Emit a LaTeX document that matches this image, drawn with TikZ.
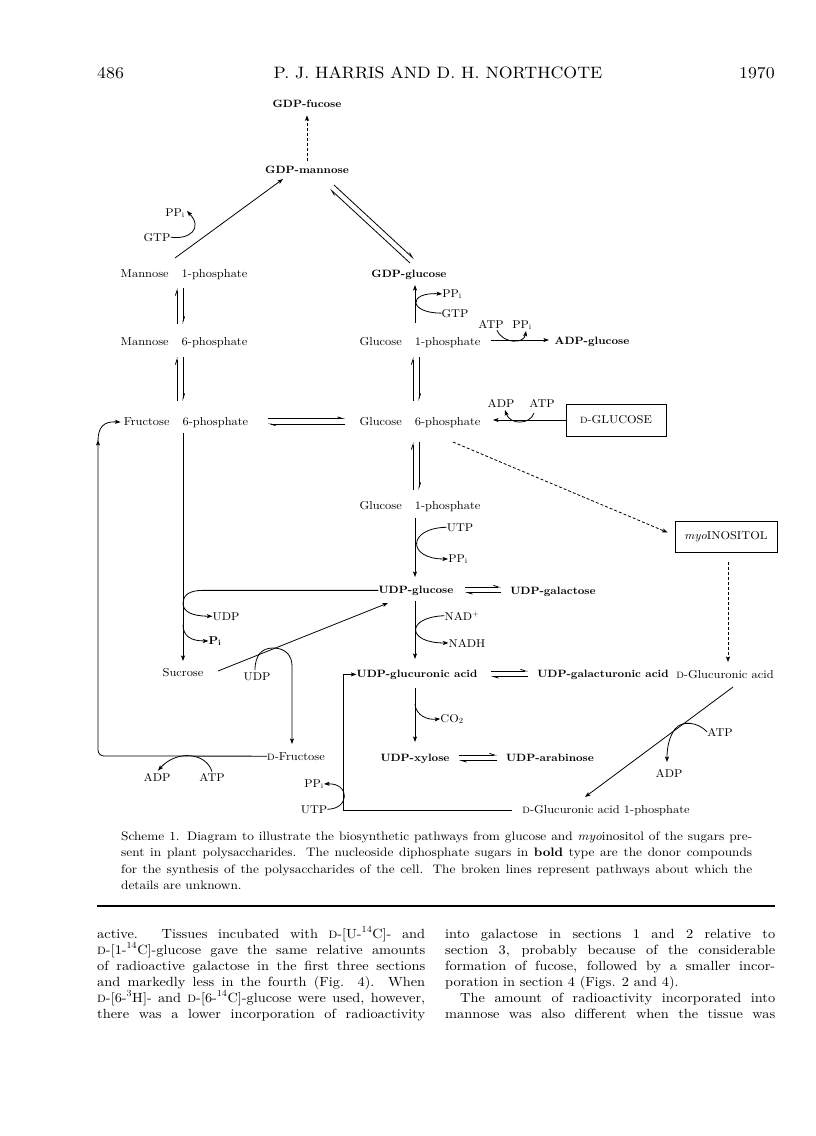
\documentclass[tikz,border=0pt]{standalone}
\usepackage{fontspec}
\setmainfont{lmroman10-regular.otf}[BoldFont=lmroman10-bold.otf,ItalicFont=lmroman10-italic.otf,BoldItalicFont=lmroman10-bolditalic.otf,FakeStretch=1.08]
\usetikzlibrary{arrows.meta,calc}
\newcommand\sD{\scalebox{0.8}{D}}
\newcommand\gp{\hspace{13pt}}
\tikzset{
  lab/.style={font=\fontsize{11.5}{13}\selectfont, inner sep=0pt, anchor=base},
  blab/.style={font=\fontsize{10.6}{12}\selectfont\bfseries, inner sep=0pt, anchor=base},
  cof/.style={font=\fontsize{11.3}{13}\selectfont, inner sep=0pt, anchor=base},
  hdr/.style={font=\fontsize{16.5}{20}\selectfont, inner sep=0pt, anchor=base},
  captxt/.style={font=\fontsize{12.3}{16}\selectfont, inner sep=0pt, anchor=base west},
  bodytxt/.style={font=\fontsize{13.3}{16}\selectfont, inner sep=0pt, anchor=base west},
  arr/.style={line width=0.8pt, -{Stealth[length=5.5pt,width=4pt,inset=1.2pt]}},
  hp/.style={line width=0.8pt, -{Straight Barb[left,length=5pt,width=3.2pt]}},
  dsh/.style={line width=0.8pt, dash pattern=on 3pt off 2pt, -{Stealth[length=5.5pt,width=4pt,inset=1.2pt]}},
  boxn/.style={draw, line width=0.8pt, inner sep=0pt, font=\fontsize{11.4}{13}\selectfont}
}
\begin{document}
\begin{tikzpicture}[x=1pt,y=-1pt]
\fill[white] (0,0) rectangle (816,1136);
\path[use as bounding box] (0,0) rectangle (816,1136);

% ---------------- header
\node[hdr, anchor=base west] (pg) at (97,78) {486};
\node[hdr] (ttl) at (438,78) {P. J. HARRIS AND D. H. NORTHCOTE};
\node[hdr, anchor=base east] (yr) at (775,78) {1970};

% ---------------- nodes
\node[blab] (fuc) at (307,107) {GDP-fucose};
\node[blab] (gman) at (307,173) {GDP-mannose};
\node[cof] (ppiA) at (175,216) {PP\textsubscript{i}};
\node[cof] (gtpA) at (157,241) {GTP};
\node[lab] (man1p) at (184,277) {Mannose\gp1-phosphate};
\node[blab] (gglc) at (409,277) {GDP-glucose};
\node[lab] (man6p) at (184,345) {Mannose\gp6-phosphate};
\node[lab] (glc1p) at (420,345) {Glucose\gp1-phosphate};
\node[cof] (ppiB) at (452,297) {PP\textsubscript{i}};
\node[cof] (gtpB) at (455,317) {GTP};
\node[cof] (atpA) at (491,328) {ATP};
\node[cof] (ppiC) at (522,328) {PP\textsubscript{i}};
\node[blab] (adpglc) at (592,344) {ADP-glucose};
\node[lab] (fru6p) at (186,425) {Fructose\gp6-phosphate};
\node[lab] (glc6p) at (420,425) {Glucose\gp6-phosphate};
\node[cof] (adpA) at (501,407) {ADP};
\node[cof] (atpB) at (542,407) {ATP};
\node[boxn, minimum width=100pt, minimum height=32pt] (dglc) at (616,420) {\sD-GLUCOSE};
\node[boxn, minimum width=102pt, minimum height=31pt] (inos) at (726,536.5) {\textit{myo}INOSITOL};
\node[lab] (glc1pb) at (420,509) {Glucose\gp1-phosphate};
\node[cof] (utpA) at (460,531) {UTP};
\node[cof] (ppiD) at (458,562) {PP\textsubscript{i}};
\node[blab] (udpglc) at (416,593) {UDP-glucose};
\node[blab] (udpgal) at (553,594) {UDP-galactose};
\node[cof] (udpA) at (226,620) {UDP};
\node[cof] (piA) at (215,644) {\textbf{P\textsubscript{i}}};
\node[lab] (sucr) at (183,676) {Sucrose};
\node[cof] (udpB) at (257,680) {UDP};
\node[cof] (nadp) at (462,620) {NAD\textsuperscript{+}};
\node[cof] (nadh) at (467,647) {NADH};
\node[blab] (udpglcA) at (417,677) {UDP-glucuronic acid};
\node[blab] (udpgalA) at (603,677) {UDP-galacturonic acid};
\node[lab] (dglcA) at (725,678) {\sD-Glucuronic acid};
\node[cof] (co2) at (452,722) {CO\textsubscript{2}};
\node[blab] (udpxyl) at (415,761) {UDP-xylose};
\node[blab] (udpara) at (550,761) {UDP-arabinose};
\node[cof] (atpC) at (720,736) {ATP};
\node[cof] (adpB) at (669,777) {ADP};
\node[lab] (dfru) at (296,760) {\sD-Fructose};
\node[cof] (adpC) at (157,781) {ADP};
\node[cof] (atpD) at (212,781) {ATP};
\node[cof] (ppiE) at (314,787) {PP\textsubscript{i}};
\node[cof] (utpB) at (314,813) {UTP};
\node[lab] (dglcA1P) at (606,813) {\sD-Glucuronic acid 1-phosphate};

% ---------------- connector end points
\coordinate (m1top) at (175,258);
\coordinate (gmanin) at (283,179);

\draw[dsh] ($(gman.north)+(0,-4)$) -- ($(fuc.south)+(0,8)$);
\draw[arr] (m1top) -- (gmanin);
\draw[arr] (gtpA.east) .. controls (190,240) and (203,228) .. ($(ppiA.east)+(2,-2)$);
\draw[hp] (334,185) -- (414,259);
\draw[hp] (410,263) -- (330,189);
\draw[hp] (177,324) -- (177,288);
\draw[hp] (183,288) -- (183,324);
\draw[arr] (415,323) -- (415,285);
\draw[arr] (gtpB.west) .. controls (408,313) and (408,292) .. (ppiB.west);
\draw[arr] (491,340) -- (549,340);
\draw[arr] ($(atpA.south)+(6,2)$) .. controls (503,344) and (524,344) .. ($(ppiC.south)+(4,1)$);
\draw[hp] (177,401) -- (177,357);
\draw[hp] (183,357) -- (183,401);
\draw[hp] (413,401) -- (413,357);
\draw[hp] (419,357) -- (419,401);
\draw[hp] (268,418.5) -- (345,418.5);
\draw[hp] (345,424) -- (268,424);
\draw[arr] (dglc.west) -- (493,420);
\draw[arr] (534,413) .. controls (530,425) and (510,425) .. (505,410);
\draw[dsh] (453,442) -- ($(inos.west)+(-7,-4)$);
\draw[hp] (413,490) -- (413,442);
\draw[hp] (419,442) -- (419,490);
\draw[arr] (415,518) -- (415,577);
\draw[arr] (utpA.west) .. controls (407,528) and (407,559) .. (ppiD.west);
\draw[hp] (465,587) -- (501,587);
\draw[hp] (501,592.5) -- (465,592.5);
\draw[arr] (udpglc.west) -- ++(-176,0) .. controls +(-14,0) and (183,596) .. (183,603) .. controls (183,612) and (192,616) .. (udpA.west);
\draw[arr] (183,433) -- (183,661);
\draw[arr] (183,625) .. controls (183,636) and (191,641) .. (piA.west);
\draw[arr] (218,671) -- (388,603);
\draw[arr] ($(udpB.north)+(-2,-2)$) .. controls (255,655) and (262,648) .. (273,648) .. controls (286,648) and (292,656) .. (292,666) -- ($(dfru.north)+(-4,-8)$);
\draw[arr, rounded corners=6pt] (dfru.west) -- (98,756) -- (98,440);
\draw[arr] (98,441) .. controls (98,428) and (103,421) .. ($(fru6p.west)+(-3,0)$);
\draw[arr] ($(atpD.north)+(0,-1)$) .. controls (206,752) and (176,750) .. ($(adpC.north)+(1,-2)$);
\draw[arr] (415,601) -- (415,659);
\draw[arr] (nadp.west) .. controls (406,617) and (406,643) .. (nadh.west);
\draw[hp] (491,671) -- (528,671);
\draw[hp] (528,676.5) -- (491,676.5);
\draw[arr] (415,688) -- (415,742);
\draw[arr] (415,704) .. controls (416,716) and (428,720) .. (co2.west);
\draw[hp] (459,755) -- (497,755);
\draw[hp] (497,760.5) -- (459,760.5);
\draw[dsh] ($(inos.south)+(2,10)$) -- (728,662);
\draw[arr] (733,687) -- (585,797);
\draw[arr] (atpC.west) .. controls (698,722) and (682,720) .. (675,729) .. controls (669,737) and (667,748) .. (667,762);
\draw[arr] ($(dglcA1P.west)+(-10,0)$) -| ($(udpglcA.west)+(-13,0)$) -- (udpglcA.west);
\draw[arr] (utpB.east) .. controls (350,809) and (350,783) .. (ppiE.east);

% ---------------- caption
\node[captxt] (cap1) at (121,840) {\makebox[631pt][s]{Scheme 1. Diagram to illustrate the biosynthetic pathways from glucose and \textit{myo}inositol of the sugars pre-}};
\node[captxt] (cap2) at (121,856.5) {\makebox[631pt][s]{sent in plant polysaccharides. The nucleoside diphosphate sugars in \textbf{bold} type are the donor compounds}};
\node[captxt] (cap3) at (121,873) {\makebox[631pt][s]{for the synthesis of the polysaccharides of the cell. The broken lines represent pathways about which the}};
\node[captxt] (cap4) at (121,889.5) {details are unknown.};

% ---------------- rule
\coordinate (rl) at (97,906);
\coordinate (rr) at (775,906);
\draw[line width=1.5pt] (rl) -- (rr);

% ---------------- body text
\node[bodytxt] (l1) at (97,938) {\makebox[328pt][s]{active. Tissues incubated with \sD-[U-\textsuperscript{14}C]- and}};
\node[bodytxt] (l2) at (97,954) {\makebox[328pt][s]{\sD-[1-\textsuperscript{14}C]-glucose gave the same relative amounts}};
\node[bodytxt] (l3) at (97,970) {\makebox[328pt][s]{of radioactive galactose in the first three sections}};
\node[bodytxt] (l4) at (97,986) {\makebox[328pt][s]{and markedly less in the fourth (Fig. 4). When}};
\node[bodytxt] (l5) at (97,1002) {\makebox[328pt][s]{\sD-[6-\textsuperscript{3}H]- and \sD-[6-\textsuperscript{14}C]-glucose were used, however,}};
\node[bodytxt] (l6) at (97,1018) {\makebox[328pt][s]{there was a lower incorporation of radioactivity}};

\node[bodytxt] (r1) at (445,938) {\makebox[330pt][s]{into galactose in sections 1 and 2 relative to}};
\node[bodytxt] (r2) at (445,954) {\makebox[330pt][s]{section 3, probably because of the considerable}};
\node[bodytxt] (r3) at (445,970) {\makebox[330pt][s]{formation of fucose, followed by a smaller incor-}};
\node[bodytxt] (r4) at (445,986) {poration in section 4 (Figs. 2 and 4).};
\node[bodytxt] (r5) at (445,1002) {\hspace{15pt}\makebox[315pt][s]{The amount of radioactivity incorporated into}};
\node[bodytxt] (r6) at (445,1018) {\makebox[330pt][s]{mannose was also different when the tissue was}};
\end{tikzpicture}
\end{document}
